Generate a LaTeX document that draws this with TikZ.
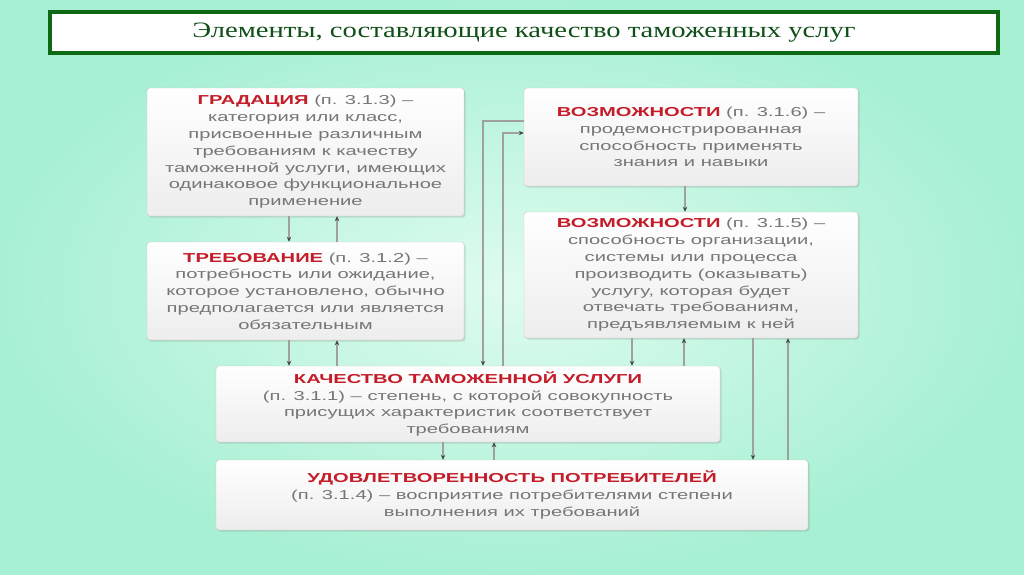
\documentclass[tikz,border=0pt]{standalone}
\usepackage{fontspec}
\usetikzlibrary{arrows.meta,shadows}
\newfontfamily\titlefont[FakeStretch=1.3]{Liberation Serif}
\newfontfamily\boxfont[FakeStretch=1.55]{Liberation Sans}
\definecolor{bgin}{RGB}{222,252,238}
\definecolor{bgout}{RGB}{168,240,212}
\definecolor{framegreen}{RGB}{14,105,20}
\definecolor{titlegreen}{RGB}{16,80,24}
\definecolor{headred}{RGB}{196,28,40}
\definecolor{bodygray}{RGB}{118,118,118}
\definecolor{boxline}{RGB}{200,200,200}
\definecolor{connline}{RGB}{160,160,160}
\definecolor{tipdark}{RGB}{70,70,70}
\tikzset{
  box/.style={draw=boxline, rounded corners=3pt, top color=white, bottom color=gray!14,
    drop shadow={opacity=0.25, shadow xshift=1.5pt, shadow yshift=-1.5pt},
    inner sep=0pt, align=center, text=bodygray,
    font=\boxfont\fontsize{13}{16.8}\selectfont},
  conn/.style={draw=connline, line width=2pt, -{Stealth[length=5pt,width=4.5pt,color=tipdark]}}
}
\newcommand{\hdr}[1]{\textcolor{headred}{\bfseries #1}}
\begin{document}
\begin{tikzpicture}[x=1pt,y=-1pt]
\useasboundingbox (0,0) rectangle (1024,574);
\shade[inner color=bgin, outer color=bgout] (0,0) rectangle (1024,574);
% title
\node[draw=framegreen, line width=4pt, fill=white, minimum width=948pt, minimum height=41pt, inner sep=0pt] (title) at (524,32.5) {};
\node[text=titlegreen, font=\titlefont\fontsize{22}{25}\selectfont] (tt) at (title.center) {Элементы, составляющие качество таможенных услуг};
% boxes
\node[box, minimum width=317pt, minimum height=128pt] (b1) at (305.5,152)
 {\hdr{ГРАДАЦИЯ} (п. 3.1.3) –\\категория или класс,\\присвоенные различным\\требованиям к качеству\\таможенной услуги, имеющих\\одинаковое функциональное\\применение};
\node[box, minimum width=317pt, minimum height=98pt] (b2) at (305.5,291)
 {\hdr{ТРЕБОВАНИЕ} (п. 3.1.2) –\\потребность или ожидание,\\которое установлено, обычно\\предполагается или является\\обязательным};
\node[box, minimum width=334pt, minimum height=98pt] (b3) at (691,137)
 {\hdr{ВОЗМОЖНОСТИ} (п. 3.1.6) –\\продемонстрированная\\способность применять\\знания и навыки};
\node[box, minimum width=334pt, minimum height=126pt] (b4) at (691,275)
 {\hdr{ВОЗМОЖНОСТИ} (п. 3.1.5) –\\способность организации,\\системы или процесса\\производить (оказывать)\\услугу, которая будет\\отвечать требованиям,\\предъявляемым к ней};
\node[box, minimum width=504pt, minimum height=76pt] (b5) at (468,404)
 {\hdr{КАЧЕСТВО ТАМОЖЕННОЙ УСЛУГИ}\\(п. 3.1.1) – степень, с которой совокупность\\присущих характеристик соответствует\\требованиям};
\node[box, minimum width=592pt, minimum height=70pt] (b6) at (512,495)
 {\hdr{УДОВЛЕТВОРЕННОСТЬ ПОТРЕБИТЕЛЕЙ}\\(п. 3.1.4) – восприятие потребителями степени\\выполнения их требований};
% columns
\coordinate (cA) at (289,0);
\coordinate (cB) at (337,0);
\coordinate (cC) at (685,0);
\coordinate (cD) at (632,0);
\coordinate (cE) at (684,0);
\coordinate (cF) at (753,0);
\coordinate (cG) at (788,0);
\coordinate (cH) at (443,0);
\coordinate (cI) at (494,0);
\coordinate (k1) at (483,121);
\coordinate (k2) at (503,133);
% connectors
\draw[conn] (b1.south -| cA) -- (b2.north -| cA);
\draw[conn] (b2.north -| cB) -- (b1.south -| cB);
\draw[conn] (b2.south -| cA) -- (b5.north -| cA);
\draw[conn] (b5.north -| cB) -- (b2.south -| cB);
\draw[conn] (b3.south -| cC) -- (b4.north -| cC);
\draw[conn] (b4.south -| cD) -- (b5.north -| cD);
\draw[conn] (b5.north -| cE) -- (b4.south -| cE);
\draw[conn] (b4.south -| cF) -- (b6.north -| cF);
\draw[conn] (b6.north -| cG) -- (b4.south -| cG);
\draw[conn] (b5.south -| cH) -- (b6.north -| cH);
\draw[conn] (b6.north -| cI) -- (b5.south -| cI);
\draw[conn] (b3.west |- k1) -- (k1) -- (b5.north -| k1);
\draw[conn] (b5.north -| k2) -- (k2) -- (b3.west |- k2);
\end{tikzpicture}
\end{document}
